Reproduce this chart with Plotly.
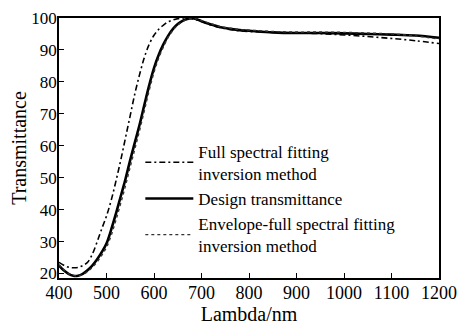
import plotly.graph_objects as go

wavelength = [400, 410, 420, 430, 440, 450, 460, 470, 480, 490, 500, 510, 520, 530, 540,
              550, 560, 570, 580, 590, 600, 610, 620, 630, 640, 650, 660, 670, 680, 690,
              700, 720, 740, 760, 780, 800, 850, 900, 950, 1000, 1050, 1100, 1150, 1200]

full_spectral = [23.5, 22.6, 22.0, 21.8, 21.9, 22.5, 23.5, 26.0, 29.8, 34.0, 38.0, 43.0, 49.0, 55.5, 62.5,
                 69.5, 76.5, 82.5, 87.8, 91.8, 94.6, 96.5, 97.8, 98.8, 99.4, 99.8, 100.0, 100.0, 99.8, 99.4,
                 98.9, 97.8, 97.0, 96.4, 96.0, 95.8, 95.5, 95.3, 95.1, 94.7, 94.2, 93.6, 92.9, 92.0]

design = [22.5, 21.0, 19.9, 19.3, 19.3, 19.9, 21.0, 22.5, 24.4, 26.7, 29.4, 33.8, 38.8, 44.2, 49.6,
          55.6, 61.2, 66.8, 73.0, 79.0, 84.3, 88.5, 91.8, 94.5, 96.6, 98.1, 99.1, 99.7, 99.9, 99.6,
          99.0, 98.0, 97.1, 96.6, 96.2, 96.0, 95.5, 95.3, 95.3, 95.2, 95.0, 94.8, 94.5, 93.8]

envelope = [22.8, 21.2, 20.0, 19.4, 19.3, 19.7, 20.6, 21.9, 23.6, 25.7, 28.2, 32.0, 36.8, 42.0, 47.5,
            53.4, 59.2, 65.0, 71.2, 77.4, 83.0, 87.5, 91.0, 94.0, 96.2, 97.8, 98.9, 99.6, 99.9, 99.7,
            99.2, 98.2, 97.3, 96.8, 96.4, 96.2, 95.8, 95.6, 95.6, 95.5, 95.3, 95.0, 94.4, 93.4]

x_ticks = [400, 500, 600, 700, 800, 900, 1000, 1100, 1200]
y_ticks = [20, 30, 40, 50, 60, 70, 80, 90, 100]

font_family = "Liberation Serif, Times New Roman, serif"

fig = go.Figure()
fig.add_trace(go.Scatter(x=wavelength, y=full_spectral, mode="lines", line_shape="spline",
                         name="Full spectral fitting<br>inversion method",
                         line=dict(color="black", width=1.6, dash="6px,3px,2px,3px")))
fig.add_trace(go.Scatter(x=wavelength, y=design, mode="lines", line_shape="spline",
                         name="Design transmittance",
                         line=dict(color="black", width=2.6)))
fig.add_trace(go.Scatter(x=wavelength, y=envelope, mode="lines", line_shape="spline",
                         name="Envelope-full spectral fitting<br>inversion method",
                         line=dict(color="#333333", width=1.4, dash="dot")))

axis_common = dict(showline=True, linecolor="black", linewidth=1.6, mirror=True,
                   ticks="inside", ticklen=5, tickwidth=1.4, tickcolor="black",
                   showgrid=False, zeroline=False, automargin=False,
                   ticklabeloverflow="allow")

fig.update_xaxes(range=[400, 1200], tickvals=x_ticks, ticklabelstandoff=-2,
                 tickfont=dict(family=font_family, size=18, color="black"),
                 title=dict(text="Lambda/nm", font=dict(family=font_family, size=20, color="black"), standoff=2),
                 **axis_common)
fig.update_yaxes(range=[18.6, 100], tickvals=y_ticks, ticklabelstandoff=-3,
                 tickfont=dict(family=font_family, size=17, color="black"),
                 title=dict(text="Transmittance", font=dict(family=font_family, size=20, color="black"), standoff=6),
                 **axis_common)

# The page body adds an 8px offset, so the figure is sized and margined to compensate.
fig.update_layout(
    width=457, height=319,
    margin=dict(l=51, r=26, t=10, b=49),
    paper_bgcolor="white", plot_bgcolor="white",
    font=dict(family=font_family, color="black"),
    showlegend=True,
    legend=dict(x=0.214, y=0.555, xanchor="left", yanchor="top",
                bgcolor="rgba(0,0,0,0)", borderwidth=0,
                font=dict(family=font_family, size=17, color="black"),
                tracegroupgap=0, itemwidth=48),
)

fig.write_html("out.html")
